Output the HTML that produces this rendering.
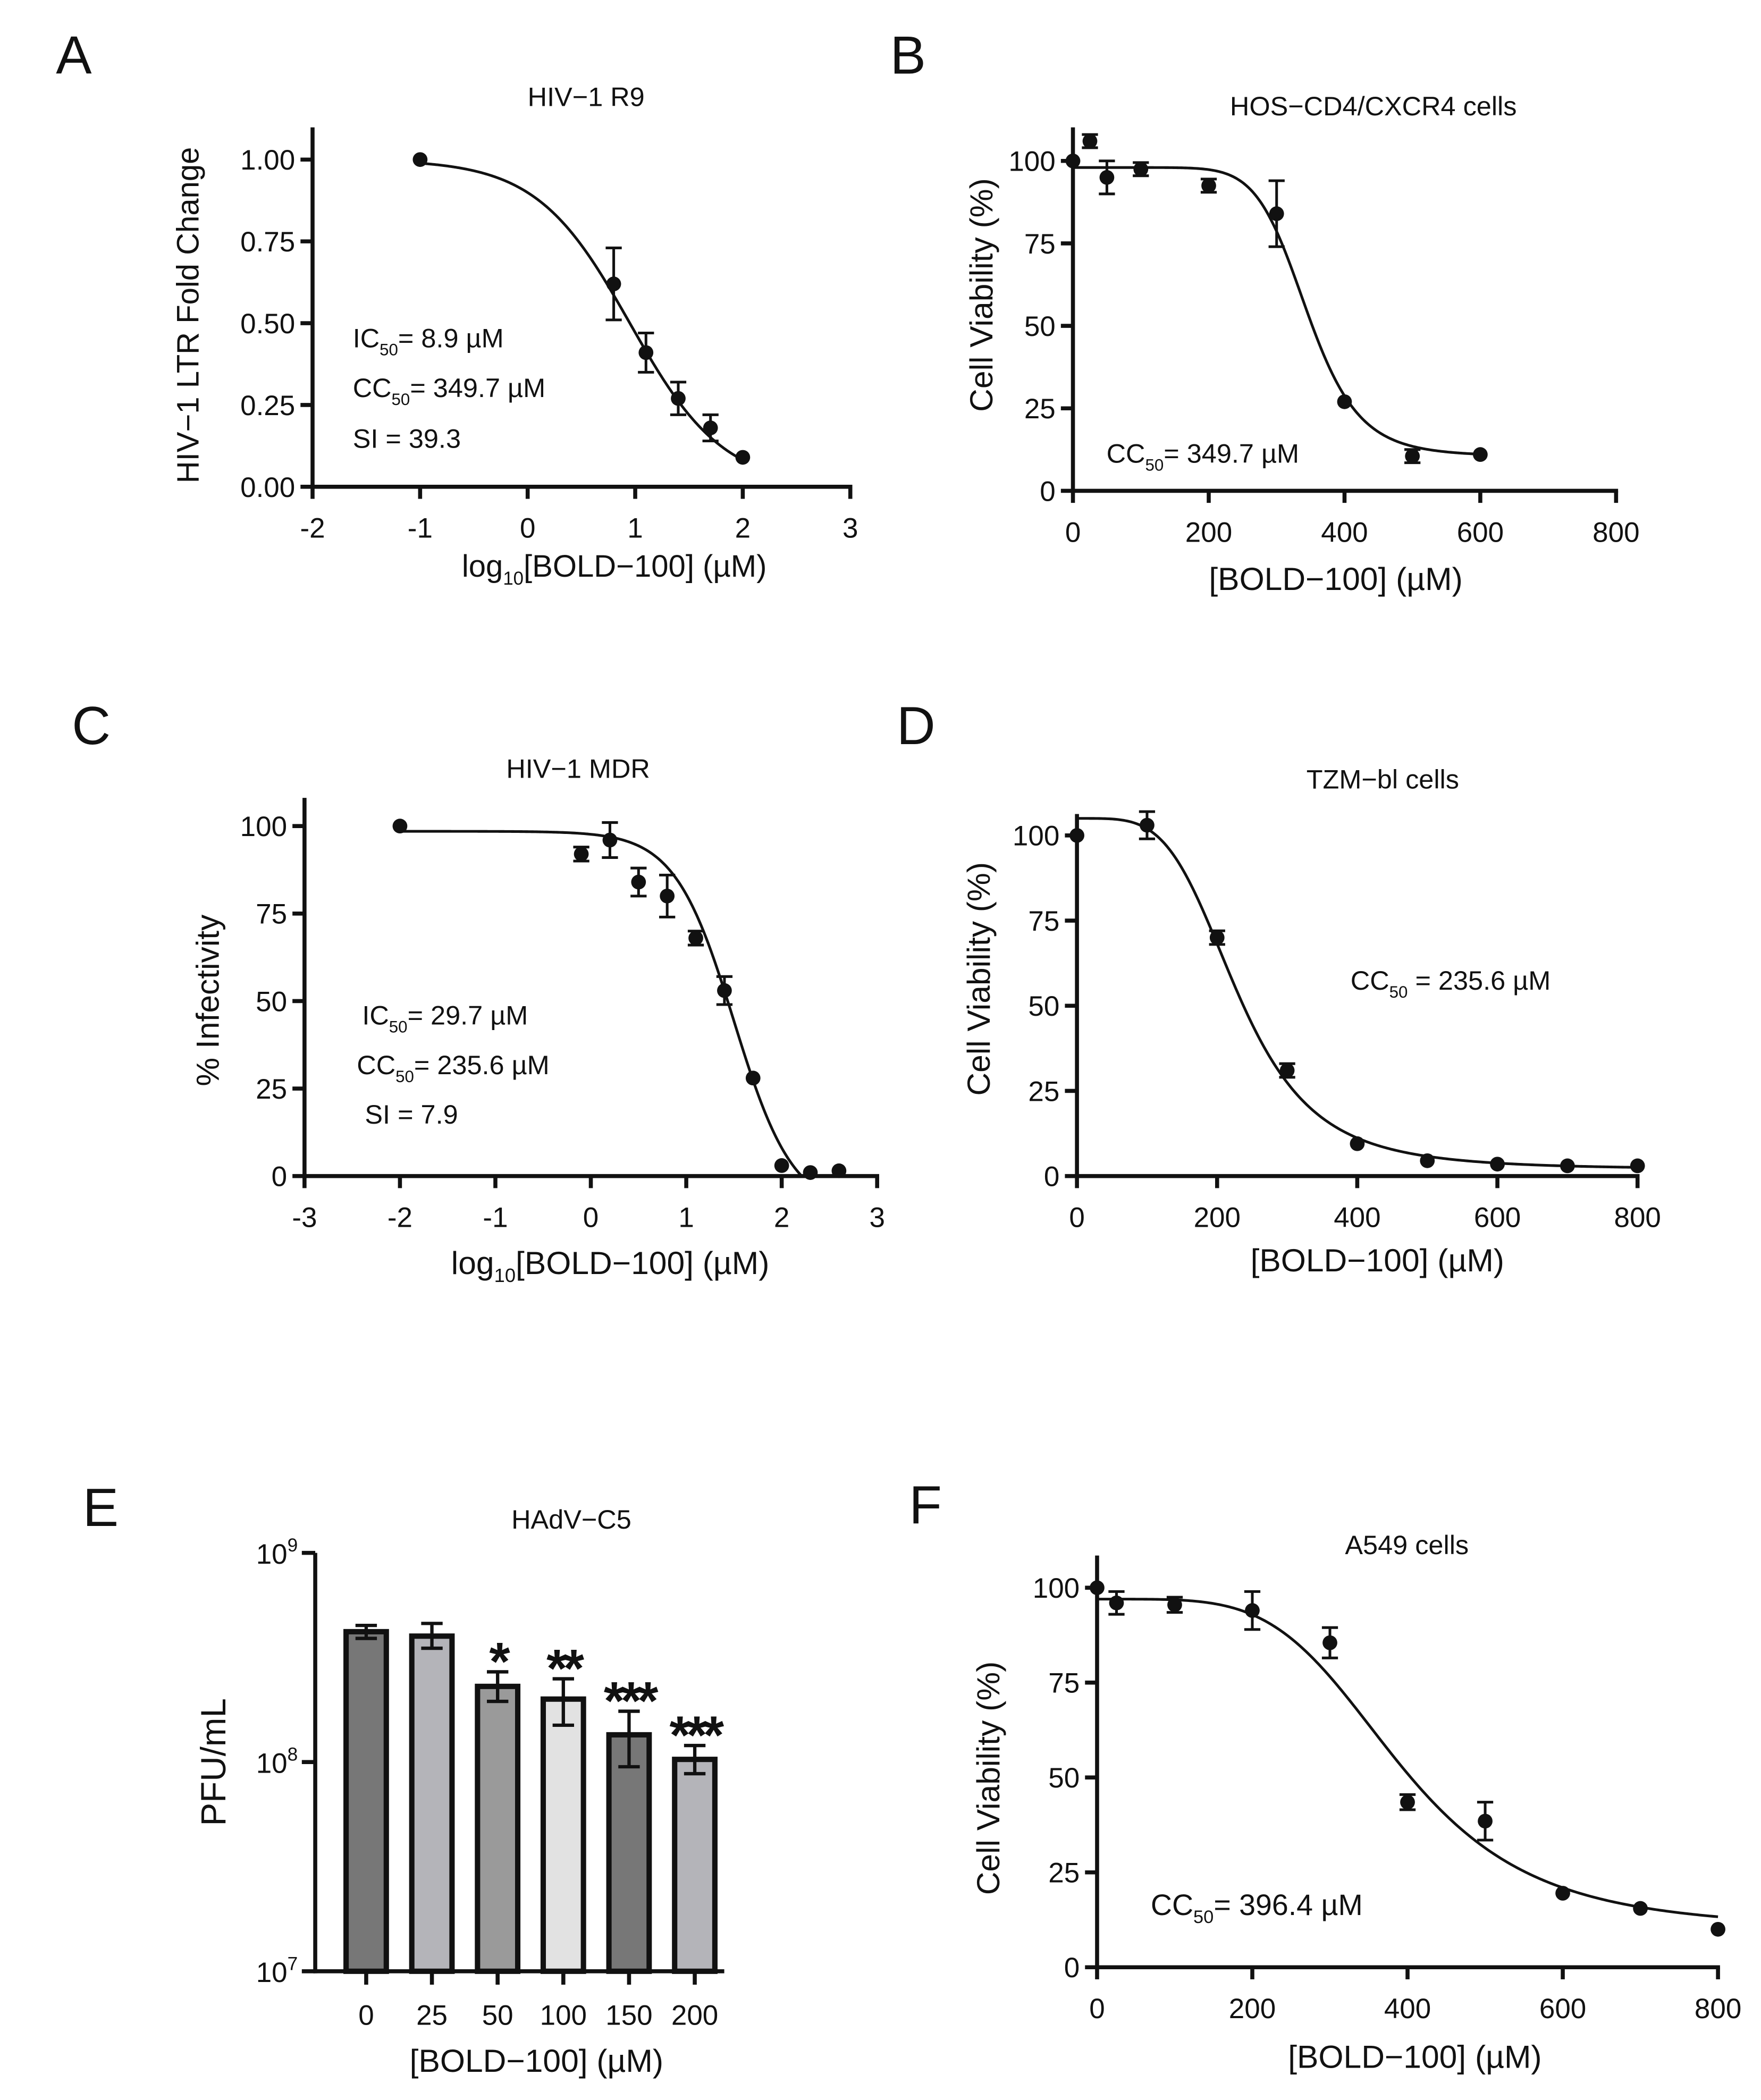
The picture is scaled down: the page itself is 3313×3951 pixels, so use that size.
<!DOCTYPE html>
<html><head><meta charset="utf-8"><style>
html,body{margin:0;padding:0;background:#fff;}
svg{display:block;}
text{font-family:"Liberation Sans Narrow","Liberation Sans",sans-serif;fill:#111;}
.lab{font-family:"Liberation Sans",sans-serif;}
</style></head><body>
<svg id="fig" width="3313" height="3951" viewBox="0 0 1313 1566" xmlns="http://www.w3.org/2000/svg"></svg>
<script>
// ---- Panel A data ----
const aX=[-1,0.8,1.1,1.4,1.7,2];
const aY=[1.0,0.62,0.41,0.27,0.18,0.09];
const aErr=[0,0.11,0.06,0.05,0.04,0];
const aXTicks=[-2,-1,0,1,2,3];
const aYTicks=[0,0.25,0.5,0.75,1.0];
const aYTickLabels=["0.00","0.25","0.50","0.75","1.00"];
// ---- Panel B data ----
const bX=[0,25,50,100,200,300,400,500,600];
const bY=[100,106,95,97.5,92.5,84,27,10.5,11];
const bErr=[0,2,5,2,2,10,0,2,0];
const bXTicks=[0,200,400,600,800];
const bYTicks=[0,25,50,75,100];
// ---- Panel C data ----
const cX=[-2,-0.1,0.2,0.5,0.8,1.1,1.4,1.7,2,2.3,2.6];
const cY=[100,92,96,84,80,68,53,28,3,1,1.5];
const cErr=[0,2,5,4,6,2,4,0,0,0,0];
const cXTicks=[-3,-2,-1,0,1,2,3];
const cYTicks=[0,25,50,75,100];
// ---- Panel D data ----
const dX=[0,100,200,300,400,500,600,700,800];
const dY=[100,103,70,31,9.5,4.5,3.5,3,3];
const dErr=[0,4,2,2,0,0,0,0,0];
const dXTicks=[0,200,400,600,800];
const dYTicks=[0,25,50,75,100];
// ---- Panel E data ----
const eCats=["0","25","50","100","150","200"];
const eVals=[4.2e8,4.0e8,2.3e8,2.0e8,1.35e8,1.03e8];
const eHi=[4.5e8,4.6e8,2.7e8,2.5e8,1.75e8,1.2e8];
const eLo=[3.9e8,3.5e8,1.95e8,1.5e8,0.95e8,0.88e8];
const eStars=["","","*","**","***","***"];
const eColors=["#777","#b4b4b9","#9a9a9a","#e2e2e2","#777","#b4b4b9"];
// ---- Panel F data ----
const fX=[0,25,100,200,300,400,500,600,700,800];
const fY=[100,96,95.5,94,85.5,43.5,38.5,19.5,15.5,10];
const fErr=[0,3,2,5,4,2,5,0,0,0];
const fXTicks=[0,200,400,600,800];
const fYTicks=[0,25,50,75,100];

const svg=document.getElementById('fig');
const NS="http://www.w3.org/2000/svg";
function el(tag,attrs,parent){const e=document.createElementNS(NS,tag);for(const k in attrs)e.setAttribute(k,attrs[k]);(parent||svg).appendChild(e);return e;}
function txt(x,y,s,size,anchor,cls){const t=el('text',{x:x,y:y,'font-size':size,'text-anchor':anchor||'middle'});if(cls)t.setAttribute('class',cls);t.textContent=s;return t;}
function lin(d0,d1,r0,r1){return v=>r0+(v-d0)*(r1-r0)/(d1-d0);}

function scatterPanel(o){
  const g=el('g',{});
  
  
  const sx=lin(o.xd[0],o.xd[1],o.xr[0],o.xr[1]);
  const sy=lin(o.yd[0],o.yd[1],o.yr[0],o.yr[1]);
  const ya=el('line',{x1:o.xr[0],y1:o.yTop,x2:o.xr[0],y2:o.yr[0]+1.5,stroke:'#111','stroke-width':3},g);
  
  const xa=el('line',{x1:o.xr[0]-1.5,y1:o.yr[0],x2:o.xr[1]+1.5,y2:o.yr[0],stroke:'#111','stroke-width':3},g);
  
  o.xt.forEach(v=>{const x=sx(v);el('line',{x1:x,y1:o.yr[0],x2:x,y2:o.yr[0]+9,stroke:'#111','stroke-width':3},g);
    const t=txt(x,o.yr[0]+38,String(v),21);});
  o.yt.forEach((v,i)=>{const y=sy(v);el('line',{x1:o.xr[0]-9,y1:y,x2:o.xr[0],y2:y,stroke:'#111','stroke-width':3},g);
    const t=txt(o.xr[0]-13,y+7.5,o.ytl?o.ytl[i]:String(v),21,'end');});
  let d='';const N=300;
  for(let i=0;i<=N;i++){const xv=o.c0+(o.c1-o.c0)*i/N;let yv=o.f(xv);if(o.clip&&yv<0)break;d+=(i?'L':'M')+sx(xv).toFixed(2)+','+sy(yv).toFixed(2);}
  const cp=el('path',{d:d,fill:'none',stroke:'#111','stroke-width':2},g);
  
  o.x.forEach((xv,i)=>{const x=sx(xv),y=sy(o.y[i]);
    if(o.e[i]>0){const y1=sy(o.y[i]+o.e[i]),y2=sy(o.y[i]-o.e[i]);
      const eb=el('path',{d:`M${x},${y1}L${x},${y2}M${x-6},${y1}L${x+6},${y1}M${x-6},${y2}L${x+6},${y2}`,stroke:'#111','stroke-width':2,fill:'none'},g);
      }
    const c=el('circle',{cx:x,cy:y,r:5.5,fill:'#111'},g);
    });
}
function sub(x,y,main,subs,rest,size){const t=el('text',{x:x,y:y,'font-size':size,'text-anchor':'start'});
  
  const a=el('tspan',{},t);a.textContent=main;const b=el('tspan',{dy:6,'font-size':size*0.62},t);b.textContent=subs;const c=el('tspan',{dy:-6},t);c.textContent=rest;}
function rot(x,y,s,size,name){const t=el('text',{x:0,y:0,'font-size':size,'text-anchor':'middle',transform:`translate(${x},${y}) rotate(-90)`,class:'lab'});t.textContent=s;
  }
function xlab(x,y,s,size){const t=txt(x,y,s,size,'middle','lab');return t;}
function title(x,y,s){const t=txt(x,y,s,20);}
function letter(x,y,s){const t=txt(x,y,s,40,'middle','lab');}
function logx(x,y,size){const t=el('text',{x:x,y:y,'font-size':size,'text-anchor':'middle',class:'lab'});
  
  el('tspan',{},t).textContent='log';const s=el('tspan',{dy:6,'font-size':size*0.6},t);s.textContent='10';el('tspan',{dy:-6},t).textContent='[BOLD\u2212100] (\u00b5M)';}

const XL='[BOLD\u2212100] (\u00b5M)';
// Panel A
letter(55,55,'A');title(437,79,'HIV\u22121 R9');
scatterPanel({name:'panel-a',xd:[-2,3],xr:[233,634],yd:[0,1],yr:[363,119],yTop:95,xt:aXTicks,yt:aYTicks,ytl:aYTickLabels,
  x:aX,y:aY,e:aErr,c0:-1,c1:2,f:x=>1/(1+Math.pow(10,(x-0.95)))});
rot(148,235,'HIV\u22121 LTR Fold Change',23,'y-axis-title');
sub(263,259,'IC','50','= 8.9 \u00b5M',20);sub(263,296,'CC','50','= 349.7 \u00b5M',20);sub(263,334,'SI = 39.3','','',20);
logx(458,430,23);
// Panel B
letter(677,55,'B');title(1024,86,'HOS\u2212CD4/CXCR4 cells');
scatterPanel({name:'panel-b',xd:[0,800],xr:[800,1205],yd:[0,100],yr:[366,120],yTop:95,xt:bXTicks,yt:bYTicks,
  x:bX,y:bY,e:bErr,c0:0,c1:600,f:x=>10.5+87.5/(1+Math.pow(x/345,9))});
rot(740,220,'Cell Viability (%)',24,'y-axis-title');
sub(825,345,'CC','50','= 349.7 \u00b5M',20);
xlab(996,440,XL,24);
// Panel C
letter(68,555,'C');title(431,580,'HIV\u22121 MDR');
scatterPanel({name:'panel-c',xd:[-3,3],xr:[227,654],yd:[0,100],yr:[877,616],yTop:595,xt:cXTicks,yt:cYTicks,
  x:cX,y:cY,e:cErr,c0:-2,c1:2.4,clip:true,f:x=>-10+108.5/(1+Math.pow(10,1.4*(x-1.5)))});
rot(163,746,'% Infectivity',24,'y-axis-title');
sub(270,764,'IC','50','= 29.7 \u00b5M',20);sub(266,801,'CC','50','= 235.6 \u00b5M',20);sub(272,838,'SI = 7.9','','',20);
logx(455,950,24);
// Panel D
letter(683,555,'D');title(1031,588,'TZM\u2212bl cells');
scatterPanel({name:'panel-d',xd:[0,800],xr:[803,1221],yd:[0,100],yr:[877,623],yTop:607,xt:dXTicks,yt:dYTicks,
  x:dX,y:dY,e:dErr,c0:0,c1:800,f:x=>2+103/(1+Math.pow(x/230,4.2))});
rot(738,730,'Cell Viability (%)',24,'y-axis-title');
sub(1007,738,'CC','50',' = 235.6 \u00b5M',20);
xlab(1027,948,XL,24);
// Panel E
letter(75,1138,'E');title(426,1140,'HAdV\u2212C5');
(function(){
  const g=el('g',{});
  const x0=235,yB=1470,ydec=156,top=1158;
  const sy=v=>yB-(Math.log10(v)-7)*ydec;
  const bx=i=>273+i*49;
  el('line',{x1:x0,y1:top,x2:x0,y2:yB+1.5,stroke:'#111','stroke-width':3},g);
  el('line',{x1:x0-1.5,y1:yB,x2:540,y2:yB,stroke:'#111','stroke-width':3},g);
  [7,8,9].forEach(p=>{const y=yB-(p-7)*ydec;el('line',{x1:x0-10,y1:y,x2:x0,y2:y,stroke:'#111','stroke-width':3},g);
    const t=el('text',{x:x0-13,y:y+8,'font-size':21,'text-anchor':'end'},g);
    el('tspan',{},t).textContent='10';const s=el('tspan',{dy:-9,'font-size':14},t);s.textContent=String(p);});
  eVals.forEach((v,i)=>{const x=bx(i),y=sy(v);
    const r=el('rect',{x:x-15,y:y,width:30,height:yB-y,fill:eColors[i],stroke:'#111','stroke-width':4},g);
    
    const y1=sy(eHi[i]),y2=sy(eLo[i]);
    const eb=el('path',{d:`M${x},${y1}L${x},${y2}M${x-8},${y1}L${x+8},${y1}M${x-8},${y2}L${x+8},${y2}`,stroke:'#111','stroke-width':2.5,fill:'none'},g);
    
    el('line',{x1:x,y1:yB,x2:x,y2:yB+10,stroke:'#111','stroke-width':3},g);
    const t=el('text',{x:x,y:yB+40,'font-size':21,'text-anchor':'middle'},g);t.textContent=eCats[i];
    
    if(eStars[i]){const s=el('text',{x:x,y:y1+6,'font-size':40,'font-weight':'bold','text-anchor':'middle','letter-spacing':-3,class:'lab'},g);s.textContent=eStars[i];
      }
  });
})();
rot(168,1314,'PFU/mL',26,'y-axis-title');
xlab(400,1545,XL,24);
// Panel F
letter(690,1136,'F');title(1049,1159,'A549 cells');
scatterPanel({name:'panel-f',xd:[0,800],xr:[818,1281],yd:[0,100],yr:[1467,1184],yTop:1160,xt:fXTicks,yt:fYTicks,
  x:fX,y:fY,e:fErr,c0:0,c1:800,f:x=>10+87/(1+Math.pow(x/390,4.5))});
rot(745,1326,'Cell Viability (%)',24,'y-axis-title');
sub(858,1428,'CC','50','= 396.4 \u00b5M',22);
xlab(1055,1542,XL,24);
</script>
</body></html>
